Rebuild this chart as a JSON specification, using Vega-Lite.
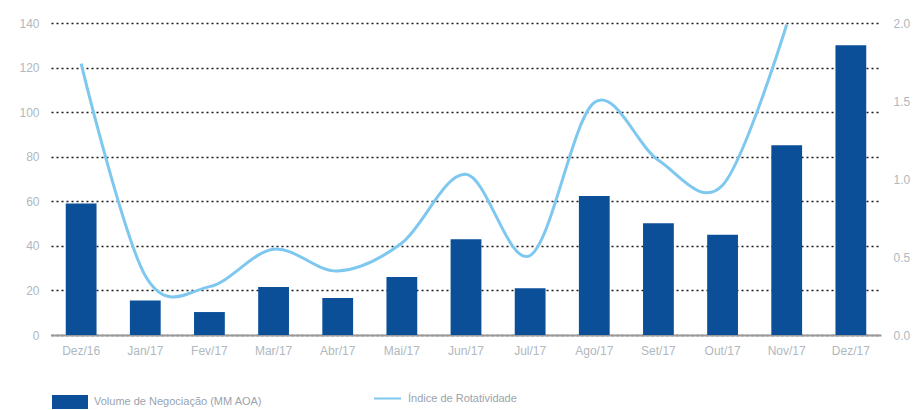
{
  "$schema": "https://vega.github.io/schema/vega-lite/v6.json",
  "width": 830,
  "height": 312,
  "autosize": {"type": "none"},
  "padding": {"left": 51, "top": 23, "right": 41, "bottom": 75},
  "background": "white",
  "config": {
    "view": {"stroke": null},
    "font": "Liberation Sans",
    "axis": {"labelFont": "Liberation Sans", "labelFontSize": 12, "labelColor": "#b0b8c0"}
  },
  "data": {
    "values": [
      {"mes": "Dez/16", "volume": 59, "indice": 1.74},
      {"mes": "Jan/17", "volume": 15.5, "indice": 0.38},
      {"mes": "Fev/17", "volume": 10.3, "indice": 0.31},
      {"mes": "Mar/17", "volume": 21.5, "indice": 0.55},
      {"mes": "Abr/17", "volume": 16.6, "indice": 0.41},
      {"mes": "Mai/17", "volume": 26, "indice": 0.59},
      {"mes": "Jun/17", "volume": 43, "indice": 1.03},
      {"mes": "Jul/17", "volume": 21, "indice": 0.51},
      {"mes": "Ago/17", "volume": 62.4, "indice": 1.49},
      {"mes": "Set/17", "volume": 50.2, "indice": 1.12},
      {"mes": "Out/17", "volume": 45, "indice": 0.96},
      {"mes": "Nov/17", "volume": 85.2, "indice": 1.99},
      {"mes": "Dez/17", "volume": 130, "indice": null}
    ]
  },
  "encoding": {
    "x": {
      "field": "mes",
      "type": "nominal",
      "sort": null,
      "scale": {"paddingInner": 0.52, "paddingOuter": 0.23},
      "axis": {
        "title": null,
        "labelAngle": 0,
        "ticks": false,
        "domainColor": "#9a9a9a",
        "domainWidth": 2,
        "labelPadding": 10,
        "grid": false
      }
    }
  },
  "layer": [
    {
      "mark": {"type": "bar", "color": "#0a4f98"},
      "encoding": {
        "y": {
          "field": "volume",
          "type": "quantitative",
          "scale": {"domain": [0, 140], "nice": false},
          "axis": {
            "title": null,
            "values": [0, 20, 40, 60, 80, 100, 120, 140],
            "domain": false,
            "ticks": false,
            "labelPadding": 12,
            "grid": true,
            "gridColor": "#1a1a1a",
            "gridDash": [2, 3],
            "gridWidth": 1.5
          }
        },
        "color": {
          "datum": "Volume de Negociação (MM AOA)",
          "scale": {"range": ["#0a4f98"]},
          "legend": {
            "orient": "none",
            "legendX": 1,
            "legendY": 361,
            "title": null,
            "symbolType": "M-1,-0.39H1V0.39H-1Z",
            "symbolSize": 1296,
            "symbolStrokeWidth": 0,
            "labelFontSize": 11,
            "labelColor": "#9aa3ad",
            "labelOffset": 6,
            "labelLimit": 400
          }
        }
      }
    },
    {
      "mark": {"type": "line", "interpolate": "cardinal", "strokeWidth": 3, "color": "#7ec8f0"},
      "encoding": {
        "y": {
          "field": "indice",
          "type": "quantitative",
          "scale": {"domain": [0, 2], "nice": false},
          "axis": {
            "orient": "right",
            "title": null,
            "values": [0, 0.5, 1, 1.5, 2],
            "format": ".1f",
            "domain": false,
            "ticks": false,
            "grid": false,
            "labelPadding": 12
          }
        },
        "stroke": {
          "datum": "Índice de Rotatividade",
          "scale": {"range": ["#7ec8f0"]},
          "legend": {
            "orient": "none",
            "legendX": 322,
            "legendY": 361,
            "title": null,
            "symbolType": "stroke",
            "symbolSize": 729,
            "symbolStrokeWidth": 2,
            "labelFontSize": 11,
            "labelColor": "#9aa3ad",
            "labelOffset": 6,
            "labelLimit": 400
          }
        }
      }
    }
  ],
  "resolve": {"scale": {"y": "independent", "color": "independent"}}
}
